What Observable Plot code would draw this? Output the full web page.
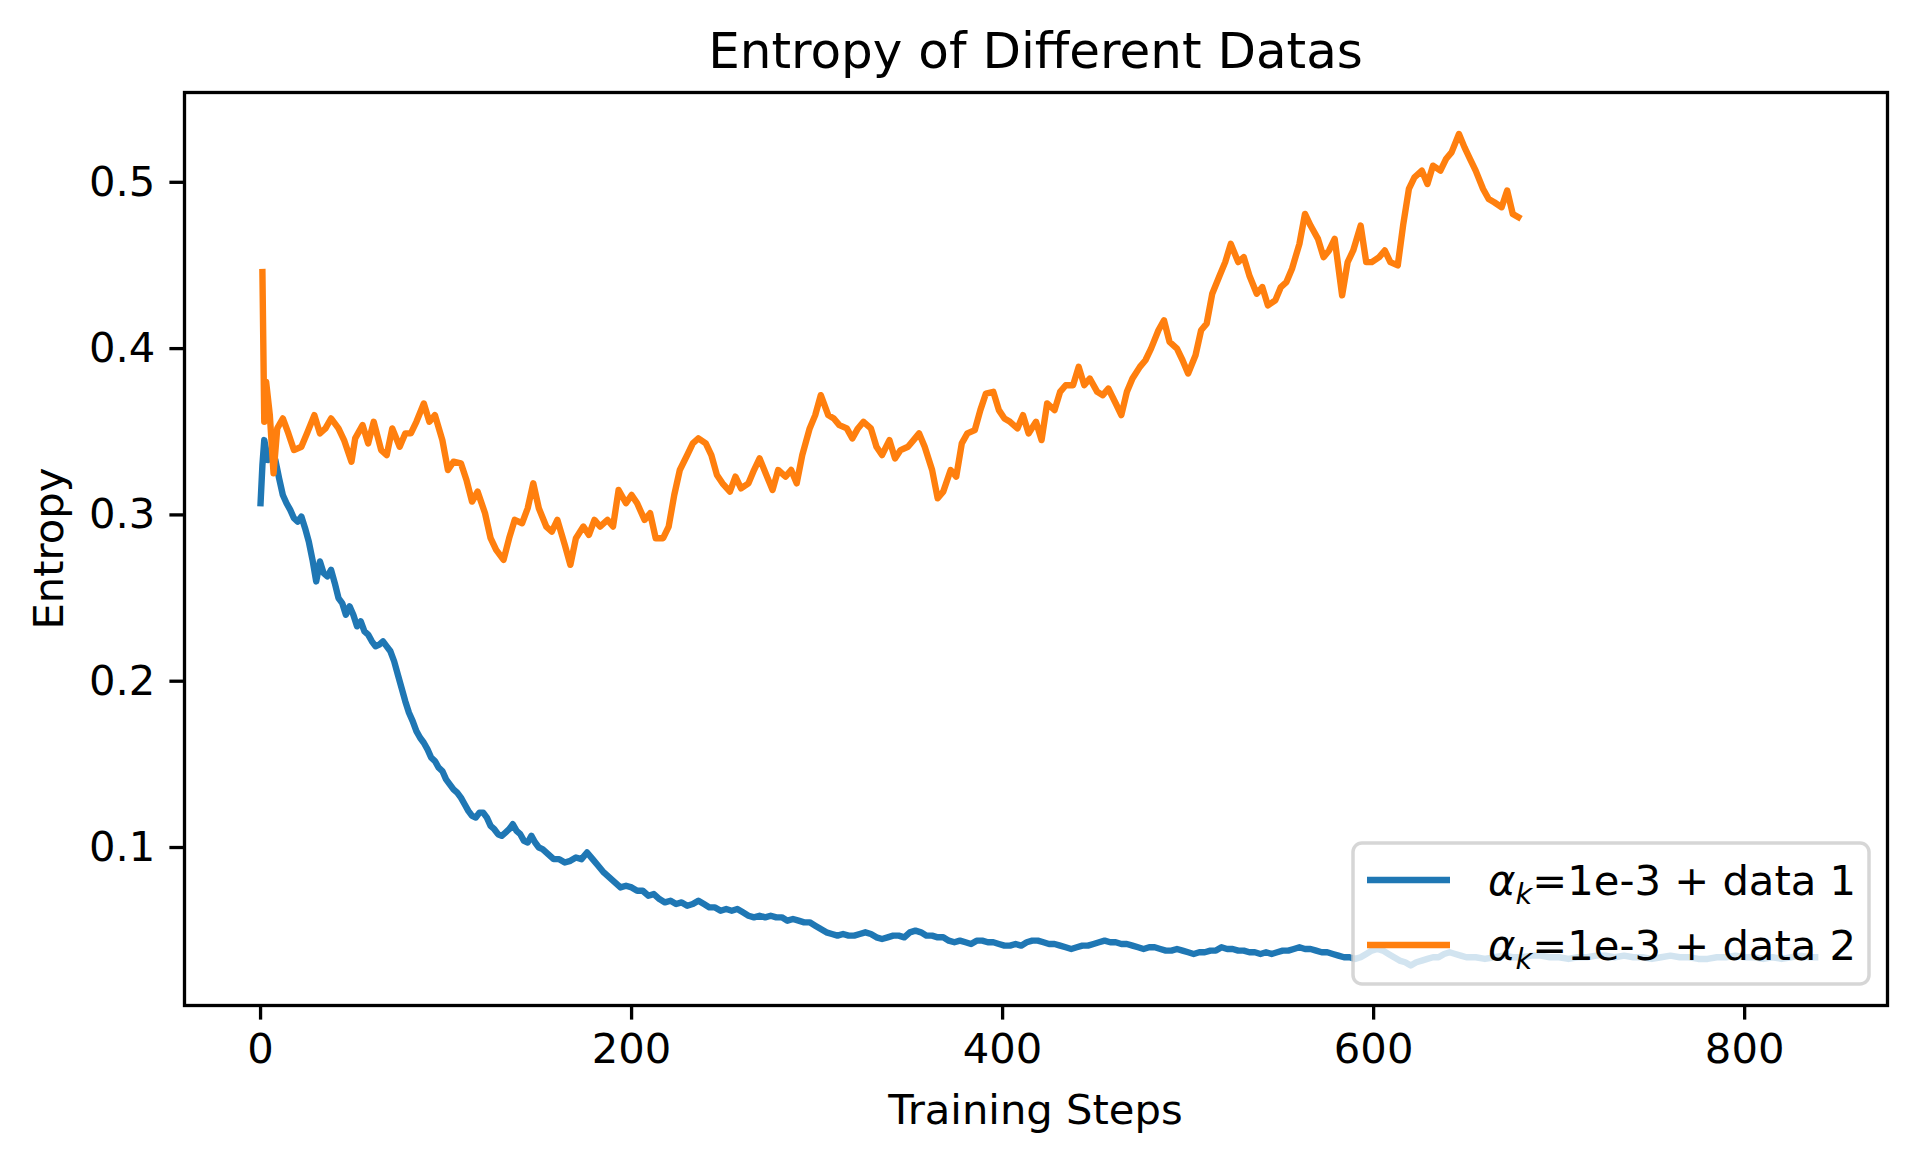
<!DOCTYPE html>
<html>
<head>
<meta charset="utf-8">
<script src="https://cdn.jsdelivr.net/npm/d3@7"></script>
<script src="https://cdn.jsdelivr.net/npm/@observablehq/plot@0.6"></script>
<style>
  html, body { margin: 0; padding: 0; background: #fff; }
  #chart svg { display: block; }
</style>
</head>
<body>
<div id="chart"></div>
<script>
// ---- data ----
const chartTitle = "Entropy of Different Datas";
const xLabel = "Training Steps";
const yLabel = "Entropy";
const xTicks = [0, 200, 400, 600, 800];
const yTicks = [0.1, 0.2, 0.3, 0.4, 0.5];
const seriesNames = ["data 1", "data 2"];

// [training step, entropy]
const data1Points = [[0,0.307],[1,0.330],[2,0.345],[4,0.333],[6,0.339],[8,0.333],[10,0.322],[12,0.312],[14,0.307],[16,0.303],[18,0.298],[20,0.296],[22,0.299],[24,0.292],[26,0.284],[28,0.273],[30,0.260],[32,0.272],[34,0.265],[36,0.263],[38,0.267],[40,0.259],[42,0.250],[44,0.247],[46,0.240],[48,0.245],[50,0.240],[52,0.233],[54,0.236],[56,0.230],[58,0.228],[60,0.224],[62,0.221],[64,0.222],[66,0.224],[68,0.221],[70,0.218],[72,0.212],[74,0.204],[76,0.196],[78,0.188],[80,0.181],[82,0.176],[84,0.170],[86,0.166],[88,0.163],[90,0.159],[92,0.154],[94,0.152],[96,0.148],[98,0.146],[100,0.141],[102,0.138],[104,0.135],[106,0.133],[108,0.130],[110,0.126],[112,0.122],[114,0.119],[116,0.118],[118,0.121],[120,0.121],[122,0.118],[124,0.113],[126,0.111],[128,0.108],[130,0.107],[132,0.109],[134,0.111],[136,0.114],[138,0.110],[140,0.108],[142,0.104],[144,0.103],[146,0.107],[148,0.103],[150,0.100],[152,0.099],[155,0.096],[158,0.093],[161,0.093],[164,0.091],[167,0.092],[170,0.094],[173,0.093],[176,0.097],[179,0.093],[182,0.089],[185,0.085],[188,0.082],[191,0.079],[194,0.076],[197,0.077],[200,0.076],[203,0.074],[206,0.074],[209,0.071],[212,0.072],[215,0.069],[218,0.067],[221,0.068],[224,0.066],[227,0.067],[230,0.065],[233,0.066],[236,0.068],[239,0.066],[242,0.064],[245,0.064],[248,0.062],[251,0.063],[254,0.062],[257,0.063],[260,0.061],[263,0.059],[266,0.058],[269,0.059],[272,0.058],[275,0.059],[278,0.058],[281,0.058],[284,0.056],[287,0.057],[290,0.056],[293,0.055],[296,0.055],[299,0.053],[302,0.051],[305,0.049],[308,0.048],[311,0.047],[314,0.048],[317,0.047],[320,0.047],[323,0.048],[326,0.049],[329,0.048],[332,0.046],[335,0.045],[338,0.046],[341,0.047],[344,0.047],[347,0.046],[350,0.049],[353,0.050],[356,0.049],[359,0.047],[362,0.047],[365,0.046],[368,0.046],[371,0.044],[374,0.043],[377,0.044],[380,0.043],[383,0.042],[386,0.044],[389,0.044],[392,0.043],[395,0.043],[398,0.042],[401,0.041],[404,0.041],[407,0.042],[410,0.041],[413,0.043],[416,0.044],[419,0.044],[422,0.043],[425,0.042],[428,0.042],[431,0.041],[434,0.040],[437,0.039],[440,0.040],[443,0.041],[446,0.041],[449,0.042],[452,0.043],[455,0.044],[458,0.043],[461,0.043],[464,0.042],[467,0.042],[470,0.041],[473,0.040],[476,0.039],[479,0.040],[482,0.040],[485,0.039],[488,0.038],[491,0.038],[494,0.039],[497,0.038],[500,0.037],[503,0.036],[506,0.037],[509,0.037],[512,0.038],[515,0.038],[518,0.040],[521,0.039],[524,0.039],[527,0.038],[530,0.038],[533,0.037],[536,0.037],[539,0.036],[542,0.037],[545,0.036],[548,0.037],[551,0.038],[554,0.038],[557,0.039],[560,0.040],[563,0.039],[566,0.039],[569,0.038],[572,0.037],[575,0.037],[578,0.036],[581,0.035],[584,0.034],[587,0.034],[590,0.033],[593,0.034],[596,0.036],[599,0.038],[602,0.039],[605,0.038],[608,0.036],[611,0.034],[614,0.032],[617,0.031],[620,0.029],[623,0.031],[626,0.032],[629,0.033],[632,0.034],[635,0.034],[638,0.036],[641,0.037],[644,0.036],[647,0.035],[650,0.034],[655,0.034],[660,0.033],[665,0.034],[670,0.035],[675,0.034],[680,0.034],[685,0.035],[690,0.035],[695,0.034],[700,0.034],[705,0.033],[710,0.034],[715,0.034],[720,0.035],[725,0.035],[730,0.034],[735,0.035],[740,0.034],[745,0.034],[750,0.033],[755,0.034],[760,0.035],[765,0.034],[770,0.034],[775,0.033],[780,0.033],[785,0.034],[790,0.034],[795,0.035],[800,0.034],[805,0.034],[810,0.033],[815,0.034],[820,0.033],[825,0.034],[830,0.035],[835,0.034],[838,0.034]];

const data2Points = [[1,0.446],[2,0.356],[3,0.380],[5,0.360],[7,0.325],[9,0.352],[12,0.358],[15,0.349],[18,0.339],[22,0.341],[25,0.349],[29,0.360],[32,0.349],[35,0.352],[38,0.358],[42,0.352],[45,0.345],[49,0.332],[51,0.346],[55,0.354],[58,0.343],[61,0.356],[65,0.339],[68,0.336],[71,0.352],[75,0.341],[78,0.349],[81,0.349],[84,0.356],[88,0.367],[91,0.356],[94,0.360],[98,0.345],[101,0.327],[104,0.332],[108,0.331],[111,0.321],[114,0.308],[117,0.314],[121,0.301],[124,0.286],[127,0.279],[131,0.273],[134,0.286],[137,0.297],[141,0.295],[144,0.304],[147,0.319],[150,0.304],[154,0.293],[157,0.290],[160,0.297],[164,0.282],[167,0.270],[170,0.286],[174,0.293],[177,0.288],[180,0.297],[183,0.293],[187,0.297],[190,0.293],[193,0.315],[197,0.307],[200,0.312],[203,0.307],[207,0.297],[210,0.301],[213,0.286],[217,0.286],[220,0.293],[223,0.312],[226,0.327],[230,0.336],[233,0.343],[236,0.346],[240,0.343],[243,0.336],[246,0.324],[249,0.319],[253,0.314],[256,0.323],[259,0.316],[263,0.319],[266,0.327],[269,0.334],[273,0.323],[276,0.315],[279,0.327],[283,0.323],[286,0.327],[289,0.319],[292,0.336],[296,0.352],[299,0.360],[302,0.372],[306,0.360],[309,0.358],[312,0.354],[316,0.352],[319,0.346],[322,0.352],[325,0.356],[329,0.352],[332,0.341],[335,0.336],[339,0.345],[342,0.334],[345,0.339],[349,0.341],[352,0.345],[355,0.349],[358,0.341],[362,0.327],[365,0.310],[368,0.314],[372,0.327],[375,0.323],[378,0.343],[381,0.349],[385,0.351],[388,0.363],[391,0.373],[395,0.374],[398,0.363],[401,0.358],[404,0.356],[408,0.352],[411,0.360],[414,0.349],[418,0.356],[421,0.345],[424,0.367],[428,0.363],[431,0.374],[434,0.378],[438,0.378],[441,0.389],[444,0.378],[447,0.382],[451,0.374],[454,0.372],[457,0.376],[461,0.367],[464,0.360],[467,0.374],[470,0.382],[474,0.389],[477,0.393],[480,0.400],[484,0.411],[487,0.417],[490,0.404],[494,0.400],[497,0.393],[500,0.385],[504,0.396],[507,0.411],[510,0.415],[513,0.433],[517,0.444],[520,0.452],[523,0.463],[527,0.452],[530,0.455],[533,0.444],[537,0.433],[540,0.437],[543,0.426],[547,0.429],[550,0.437],[553,0.440],[556,0.448],[560,0.463],[563,0.481],[566,0.474],[570,0.466],[573,0.455],[576,0.459],[579,0.466],[583,0.432],[586,0.452],[589,0.459],[593,0.474],[596,0.452],[599,0.452],[603,0.455],[606,0.459],[609,0.452],[613,0.450],[616,0.475],[619,0.496],[622,0.503],[626,0.507],[629,0.499],[632,0.510],[636,0.507],[639,0.514],[642,0.518],[646,0.529],[649,0.521],[652,0.514],[655,0.507],[659,0.496],[662,0.490],[665,0.488],[669,0.485],[672,0.495],[675,0.481],[678,0.479]];

// ---- chart ----
const FONT = "DejaVu Sans, Liberation Sans, sans-serif";
const colors = ["#1f77b4", "#ff7f0e"];
const W = 1920, H = 1166;
const mL = 184, mR = 33, mT = 92, mB = 161;

const chart = Plot.plot({
  width: W, height: H,
  marginLeft: mL, marginRight: mR, marginTop: mT, marginBottom: mB,
  style: {fontFamily: FONT, fontSize: "41.7px", background: "#fff", color: "#000", overflow: "visible"},
  x: {domain: [-41, 877], label: null},
  y: {domain: [0.005, 0.554], label: null},
  marks: [
    Plot.line(data1Points, {x: d => d[0], y: d => d[1], stroke: colors[0], strokeWidth: 6.4, strokeLinejoin: "round", strokeLinecap: "square"}),
    Plot.line(data2Points, {x: d => d[0], y: d => d[1], stroke: colors[1], strokeWidth: 6.4, strokeLinejoin: "round", strokeLinecap: "square"}),
    Plot.frame({stroke: "#000", strokeWidth: 3.3}),
    Plot.axisX({ticks: xTicks, tickSize: 14.6, tickPadding: 13, strokeWidth: 3.3, fontSize: 41.7, label: null, tickFormat: d => String(d)}),
    Plot.axisY({ticks: yTicks, tickSize: 14.6, tickPadding: 14.6, strokeWidth: 3.3, fontSize: 41.7, label: null, tickFormat: d => d.toFixed(1)})
  ]
});

document.getElementById("chart").appendChild(chart);

const svg = d3.select(chart);
const cx = mL + (W - mL - mR) / 2;

// title and axis labels
svg.append("text").attr("x", cx).attr("y", 68).attr("text-anchor", "middle")
  .attr("font-family", FONT).attr("font-size", 50).attr("fill", "#000").text(chartTitle);
svg.append("text").attr("x", cx).attr("y", 1124).attr("text-anchor", "middle")
  .attr("font-family", FONT).attr("font-size", 41.7).attr("fill", "#000").text(xLabel);
svg.append("text").attr("transform", `translate(63,${mT + (H - mT - mB) / 2}) rotate(-90)`)
  .attr("text-anchor", "middle").attr("font-family", FONT).attr("font-size", 41.7).attr("fill", "#000").text(yLabel);

// legend (lower right, semi-transparent white box)
const lg = svg.append("g").attr("text-anchor", "start");
lg.append("rect").attr("x", 1353).attr("y", 843).attr("width", 516).attr("height", 141).attr("rx", 9)
  .attr("fill", "#fff").attr("fill-opacity", 0.8).attr("stroke", "#cccccc").attr("stroke-opacity", 0.8).attr("stroke-width", 3.5);
seriesNames.forEach((name, i) => {
  const yRow = 880 + i * 65;
  lg.append("line").attr("x1", 1367).attr("x2", 1450).attr("y1", yRow).attr("y2", yRow)
    .attr("stroke", colors[i]).attr("stroke-width", 6.4);
  const t = lg.append("text").attr("x", 1488).attr("y", yRow + 15).attr("text-anchor", "start")
    .attr("font-family", FONT).attr("font-size", 41.7).attr("fill", "#000");
  t.append("tspan").attr("font-style", "italic").text("α");
  t.append("tspan").attr("font-style", "italic").attr("font-size", 29).attr("dy", 9).text("k");
  t.append("tspan").attr("dy", -9).text("=1e-3 + " + name);
});
</script>
</body>
</html>
